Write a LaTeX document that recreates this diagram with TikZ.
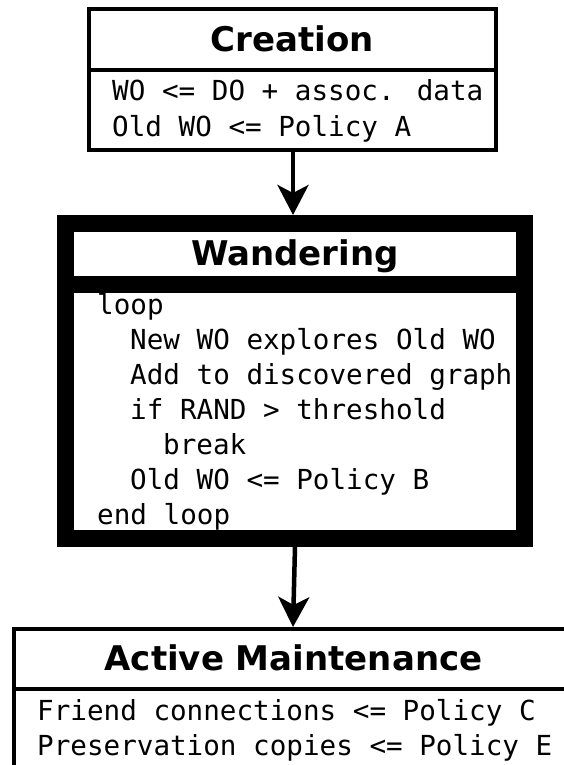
\documentclass[tikz,border=0pt]{standalone}
\usepackage{fontspec}
\setmainfont{DejaVu Sans}
\newfontfamily\monof{DejaVu Sans Mono}
\usetikzlibrary{arrows.meta}
\begin{document}
\begin{tikzpicture}[x=1pt,y=-1pt,
  box/.style={draw, inner sep=0pt, line width=4pt},
  ttl/.style={font=\fontsize{34}{40}\selectfont\bfseries, anchor=base, inner sep=0pt},
  code/.style={font=\monof\fontsize{27.6}{35}\selectfont, anchor=base west, inner sep=0pt},
  conn/.style={line width=4.5pt, -{Stealth[length=30pt,width=31pt,inset=8pt]}}]
\useasboundingbox (0,0) rectangle (564,765);
\fill[white] (0,0) rectangle (564,765);
\clip (0,0) rectangle (564,765);
% boxes
\node[box, minimum width=406.5pt, minimum height=140pt] (creation) at (292.25,79.5) {};
\draw[line width=4pt] (creation.west |- 0,70.5) -- (creation.east |- 0,70.5);
\node[box, line width=17pt, minimum width=459pt, minimum height=314.5pt] (wandering) at (295,380.75) {};
\draw[line width=17pt] (wandering.west |- 0,284.5) -- (wandering.east |- 0,284.5);
\node[box, minimum width=558pt, minimum height=161pt] (active) at (293,709.5) {};
\draw[line width=4pt] (active.west |- 0,689) -- (active.east |- 0,689);
% titles
\node[ttl] (t1) at (292,52) {Creation};
\node[ttl] (t2) at (295,265) {Wandering};
\node[ttl] (t3) at (293.5,670) {Active Maintenance};
% creation body
\node[code] (c1) at (112,101) {WO <= DO + assoc. data};
\node[code] (c2) at (112,136) {Old WO <= Policy A};
% wandering body
\node[code] (w1) at (97,314) {loop};
\node[code] (w2) at (130,349) {New WO explores Old WO};
\node[code] (w3) at (130,384) {Add to discovered graph};
\node[code] (w4) at (130,419) {if RAND > threshold};
\node[code] (w5) at (163,454) {break};
\node[code] (w6) at (130,489) {Old WO <= Policy B};
\node[code] (w7) at (97,524) {end loop};
% active body
\node[code] (a1) at (37,720) {Friend connections <= Policy C};
\node[code] (a2) at (37,755) {Preservation copies <= Policy E};
% connectors
\draw[conn] ([xshift=0.75pt]creation.south) -- ([xshift=-2pt]wandering.north);
\draw[conn] (wandering.south) -- (active.north);
\end{tikzpicture}
\end{document}
